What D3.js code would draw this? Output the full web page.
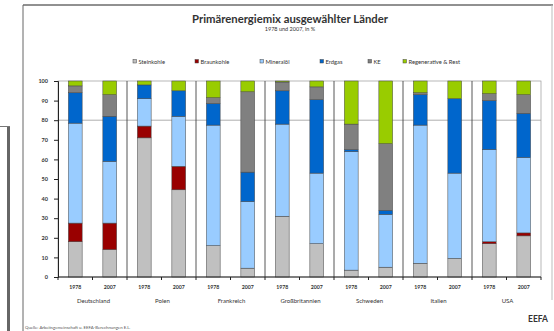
<!DOCTYPE html>
<html>
<head>
<meta charset="utf-8">
<script src="https://cdn.jsdelivr.net/npm/d3@7"></script>
<style>
  html, body { margin: 0; padding: 0; background: #fff; }
  svg { display: block; }
  text { font-family: Lato, "Open Sans", "DejaVu Sans", sans-serif; }
</style>
</head>
<body>
<svg id="chart" width="554" height="331"></svg>
<script>
// Primary energy mix, shares in percent, per country and year
const countries = ["Deutschland", "Polen", "Frankreich", "Großbritannien", "Schweden", "Italien", "USA"];
const years = ["1978", "2007"];
const seriesNames = ["Steinkohle", "Braunkohle", "Mineralöl", "Erdgas", "KE", "Regenerative & Rest"];

// one value per bar, ordered country by country, 1978 then 2007
const steinkohle  = [18, 14,   71, 44.5, 16,   4.5, 31,  17,   3.5, 5,  7,    9.5,  17, 21];
const braunkohle  = [9.5, 13.5, 6, 12,   0,    0,   0,   0,    0,   0,  0,    0,    1,  1.5];
const mineraloel  = [51, 31.5, 14, 25.5, 61.5, 34,  47,  36,   60.5, 27, 70.5, 43.5, 47, 38.5];
const erdgas      = [15.5, 23,  7, 13,   11,   15,  17,  37.5, 1,   2,  15.5, 38,   25, 22.5];
const kernenergie = [3.5, 11,   0, 0,    3,    41,  4.5, 6.5,  13,  34, 1,    0,    3.5, 9.5];
const regenerativ = [2.5, 7,    2, 5,    8.5,  5.5, 0.5, 3,    22,  32, 6,    9,    6.5, 7];

const yTicks = [0, 10, 20, 30, 40, 50, 60, 70, 80, 90, 100];

const colors = ["#c0c0c0", "#990000", "#99ccff", "#0066cc", "#808080", "#99cc00"];
const seriesValues = [steinkohle, braunkohle, mineraloel, erdgas, kernenergie, regenerativ];

// table of bars for the stack layout
const bars = [];
countries.forEach((c, i) => {
  years.forEach((y, j) => {
    const row = { key: c + " " + y, country: c, year: y };
    seriesNames.forEach((s, k) => { row[s] = seriesValues[k][i * 2 + j]; });
    bars.push(row);
  });
});

const svg = d3.select("#chart");
const plot = { left: 58, right: 541, top: 81, bottom: 277 };

// outer frame of the chart sheet
const frame = svg.append("g");
frame.append("line").attr("x1", 23).attr("y1", 5).attr("x2", 553).attr("y2", 5)
  .attr("stroke", "#222").attr("stroke-width", 1);
frame.append("line").attr("x1", 23).attr("y1", 5).attr("x2", 23).attr("y2", 331)
  .attr("stroke", "#666").attr("stroke-width", 1);
frame.append("line").attr("x1", 552).attr("y1", 5).attr("x2", 552).attr("y2", 300)
  .attr("stroke", "#bbb").attr("stroke-width", 1);
frame.append("rect").attr("x", 7).attr("y", 126).attr("width", 3).attr("height", 205)
  .attr("fill", "#666");
frame.append("line").attr("x1", 0).attr("y1", 126.5).attr("x2", 10).attr("y2", 126.5)
  .attr("stroke", "#777").attr("stroke-width", 1);

// title
svg.append("text").attr("x", 290).attr("y", 23).attr("text-anchor", "middle")
  .attr("font-size", 11.3).attr("font-weight", "bold").attr("fill", "#333")
  .text("Primärenergiemix ausgewählter Länder");
svg.append("text").attr("x", 290).attr("y", 31).attr("text-anchor", "middle")
  .attr("font-size", 5.5).attr("fill", "#333")
  .text("1978 und 2007, in %");

// scales
const x = d3.scaleBand().domain(bars.map(d => d.key))
  .range([plot.left, plot.right]).paddingInner(0.6).paddingOuter(0.3);
const y = d3.scaleLinear().domain([0, 100]).range([plot.bottom, plot.top]);
const step = x.step();

// plot border
svg.append("rect").attr("x", plot.left).attr("y", plot.top)
  .attr("width", plot.right - plot.left).attr("height", plot.bottom - plot.top)
  .attr("fill", "none").attr("stroke", "#999").attr("stroke-width", 0.7);

// reference line at 80 %
svg.append("line").attr("x1", plot.left).attr("x2", plot.right)
  .attr("y1", y(80)).attr("y2", y(80))
  .attr("stroke", "#999").attr("stroke-width", 0.8);

// separators between countries
countries.slice(1).forEach((c, i) => {
  const xs = x(bars[(i + 1) * 2].key) - step * 0.3;
  svg.append("line").attr("x1", xs).attr("x2", xs)
    .attr("y1", plot.top).attr("y2", plot.bottom)
    .attr("stroke", "#444").attr("stroke-width", 0.9);
});

// stacked bars
const stack = d3.stack().keys(seriesNames);
const layers = stack(bars);
svg.append("g").selectAll("g").data(layers).join("g")
  .attr("fill", (d, i) => colors[i])
  .selectAll("rect").data(d => d.filter(p => p[1] - p[0] > 0)).join("rect")
  .attr("x", p => x(p.data.key))
  .attr("width", x.bandwidth())
  .attr("y", p => y(p[1]))
  .attr("height", p => y(p[0]) - y(p[1]))
  .attr("stroke", "#444").attr("stroke-width", 0.5);

// y axis
const yAxis = svg.append("g").attr("transform", `translate(${plot.left},0)`)
  .call(d3.axisLeft(y).tickValues(yTicks).tickSize(4).tickPadding(6));
yAxis.select(".domain").attr("stroke", "#222").attr("stroke-width", 1);
yAxis.selectAll(".tick line").attr("stroke", "#222");
yAxis.selectAll(".tick text").attr("font-size", 5.5).attr("font-weight", "bold")
  .attr("fill", "#333").attr("font-family", "Lato, sans-serif");

// x axis: ticks at category boundaries, year labels under the bars
const xAxis = svg.append("g");
xAxis.append("line").attr("x1", plot.left).attr("x2", plot.right)
  .attr("y1", plot.bottom).attr("y2", plot.bottom).attr("stroke", "#222");
bars.forEach((d, i) => {
  const xb = x(d.key) - step * 0.3;
  xAxis.append("line").attr("x1", xb).attr("x2", xb)
    .attr("y1", plot.bottom).attr("y2", plot.bottom + 3).attr("stroke", "#222");
});
xAxis.append("line").attr("x1", plot.right).attr("x2", plot.right)
  .attr("y1", plot.bottom).attr("y2", plot.bottom + 3).attr("stroke", "#222");
xAxis.selectAll("text.year").data(bars).join("text").attr("class", "year")
  .attr("x", d => x(d.key) + x.bandwidth() / 2).attr("y", 289)
  .attr("text-anchor", "middle").attr("font-size", 5.2).attr("font-weight", "bold")
  .attr("fill", "#333").text(d => d.year);
xAxis.selectAll("text.country").data(countries).join("text").attr("class", "country")
  .attr("x", (c, i) => x(bars[i * 2].key) - step * 0.3 + step + 1)
  .attr("y", 302.5).attr("text-anchor", "middle").attr("font-size", 6)
  .attr("fill", "#333").text(c => c);

// legend
const legendX = [133, 195, 260, 320, 368, 403];
const legend = svg.append("g");
seriesNames.forEach((s, i) => {
  legend.append("rect").attr("x", legendX[i]).attr("y", 59.5).attr("width", 3.5).attr("height", 3.5)
    .attr("fill", colors[i]).attr("stroke", "#444").attr("stroke-width", 0.5);
  legend.append("text").attr("x", legendX[i] + 5.5).attr("y", 63.5)
    .attr("font-size", 5.8).attr("fill", "#333").text(s);
});

// source and logo
svg.append("text").attr("x", 25).attr("y", 329).attr("font-size", 4.3).attr("fill", "#555")
  .text("Quelle: Arbeitsgemeinschaft u. EEFA-Berechnungen E.L.");
svg.append("text").attr("x", 528).attr("y", 322).attr("font-size", 8.5).attr("font-weight", "bold")
  .attr("fill", "#333").text("EEFA");
</script>
</body>
</html>
